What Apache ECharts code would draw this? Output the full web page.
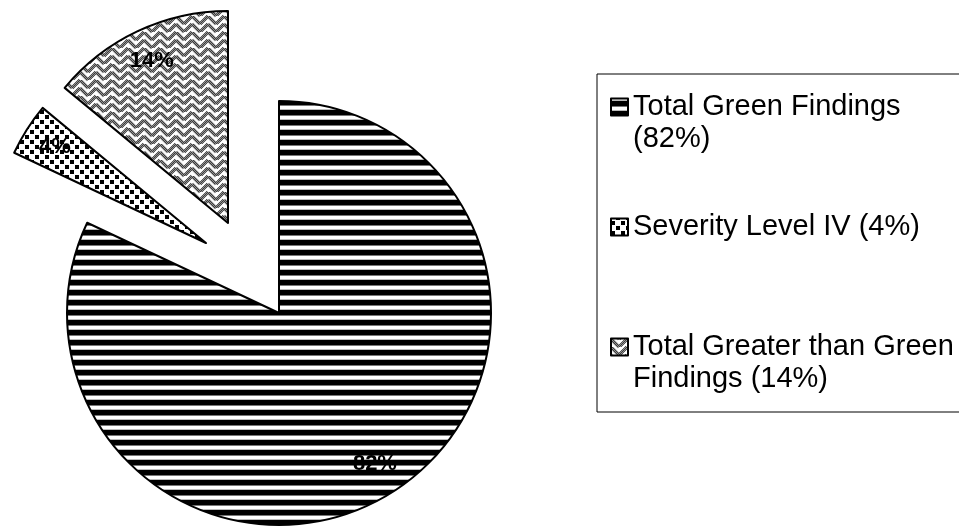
<!DOCTYPE html>
<html><head><meta charset="utf-8">
<script src="https://cdn.jsdelivr.net/npm/echarts@6/dist/echarts.min.js"></script>
<style>html,body{margin:0;padding:0;background:#fff}#c{width:959px;height:527px}</style>
</head><body><div id="c"></div>
<script>
// ---- data ----
const categories = ['Total Green Findings (82%)', 'Severity Level IV (4%)', 'Total Greater than Green Findings (14%)'];
const values = [82, 4, 14];

// ---- fill patterns ----
function makeTile(w, h, draw) {
  const c = document.createElement('canvas');
  c.width = w; c.height = h;
  const g = c.getContext('2d');
  g.fillStyle = '#fff'; g.fillRect(0, 0, w, h);
  draw(g);
  return c;
}
const stripes = makeTile(10, 10, g => {
  g.fillStyle = '#000'; g.fillRect(0, 0, 10, 5);
  g.fillStyle = '#777'; g.fillRect(0, 5, 10, 1);
  g.fillStyle = '#bbb'; g.fillRect(0, 9, 10, 1);
});
const dots = makeTile(10, 10, g => {
  g.fillStyle = '#000';
  g.fillRect(0, 0, 4, 4);
  g.fillRect(5, 5, 4, 4);
});
const weave = makeTile(16, 16, g => {
  g.strokeStyle = '#3a3a3a'; g.lineWidth = 3.4;
  g.beginPath();
  [[0,-8,8,0],[0,0,8,8],[0,8,8,16],[8,8,16,0],[8,16,16,8],[8,24,16,16]].forEach(s => {
    g.moveTo(s[0], s[1]); g.lineTo(s[2], s[3]);
  });
  g.stroke();
  g.fillStyle = 'rgba(255,255,255,0.45)';
  for (let y = 0; y < 16; y++) for (let x = (y % 2); x < 16; x += 2) g.fillRect(x, y, 1, 1);
});
const patterns = [stripes, dots, weave];
const fill = i => ({ image: patterns[i], repeat: 'repeat' });

// ---- layout (slice centres: main pie and exploded slices) ----
const centers = [[279, 313], [206, 243], [228, 223]];
const R = 212;

const series = [];
categories.forEach((_, k) => {
  series.push({
    type: 'pie', center: centers[k], radius: [0, R], startAngle: 90, clockwise: true,
    silent: true, animation: false, emphasis: { disabled: true },
    label: { show: false }, labelLine: { show: false },
    data: categories.map((name, i) => ({
      name, value: values[i],
      itemStyle: i === k
        ? { color: fill(i), borderColor: '#000', borderWidth: 2 }
        : { color: 'rgba(0,0,0,0)', borderWidth: 0 }
    }))
  });
  series.push({
    type: 'pie', center: centers[k], radius: [140, R], startAngle: 90, clockwise: true,
    silent: true, animation: false, emphasis: { disabled: true },
    itemStyle: { color: 'rgba(0,0,0,0)', borderWidth: 0 },
    labelLine: { show: false },
    label: {
      position: 'inside', rotate: 0, formatter: '{c}%',
      fontFamily: 'Liberation Sans, Arial, sans-serif', fontSize: 22, fontWeight: 'bold', color: '#000'
    },
    data: categories.map((name, i) => ({ name, value: values[i], label: { show: i === k } }))
  });
});

const chart = echarts.init(document.getElementById('c'), null, { renderer: 'canvas' });
chart.setOption({
  backgroundColor: '#fff',
  animation: false,
  legend: {
    orient: 'vertical', left: 597, top: 74,
    padding: [16, 40, 16, 13], itemGap: 54,
    itemWidth: 17, itemHeight: 64,
    borderColor: '#000', borderWidth: 1,
    selectedMode: false,
    icon: 'path://M0,0M0,7.5h17v17h-17zM0,64',
    // single-line entries keep their text on the first line, like the multi-line ones
    formatter: name => (name === categories[1] ? name + '\n ' : name),
    textStyle: {
      fontFamily: 'Liberation Sans, Arial, sans-serif', fontSize: 29, lineHeight: 32, color: '#000',
      width: 335, overflow: 'break'
    },
    data: categories.map((name, i) => ({
      name,
      itemStyle: { color: fill(i), borderColor: '#000', borderWidth: 2 }
    }))
  },
  series
});
</script></body></html>
